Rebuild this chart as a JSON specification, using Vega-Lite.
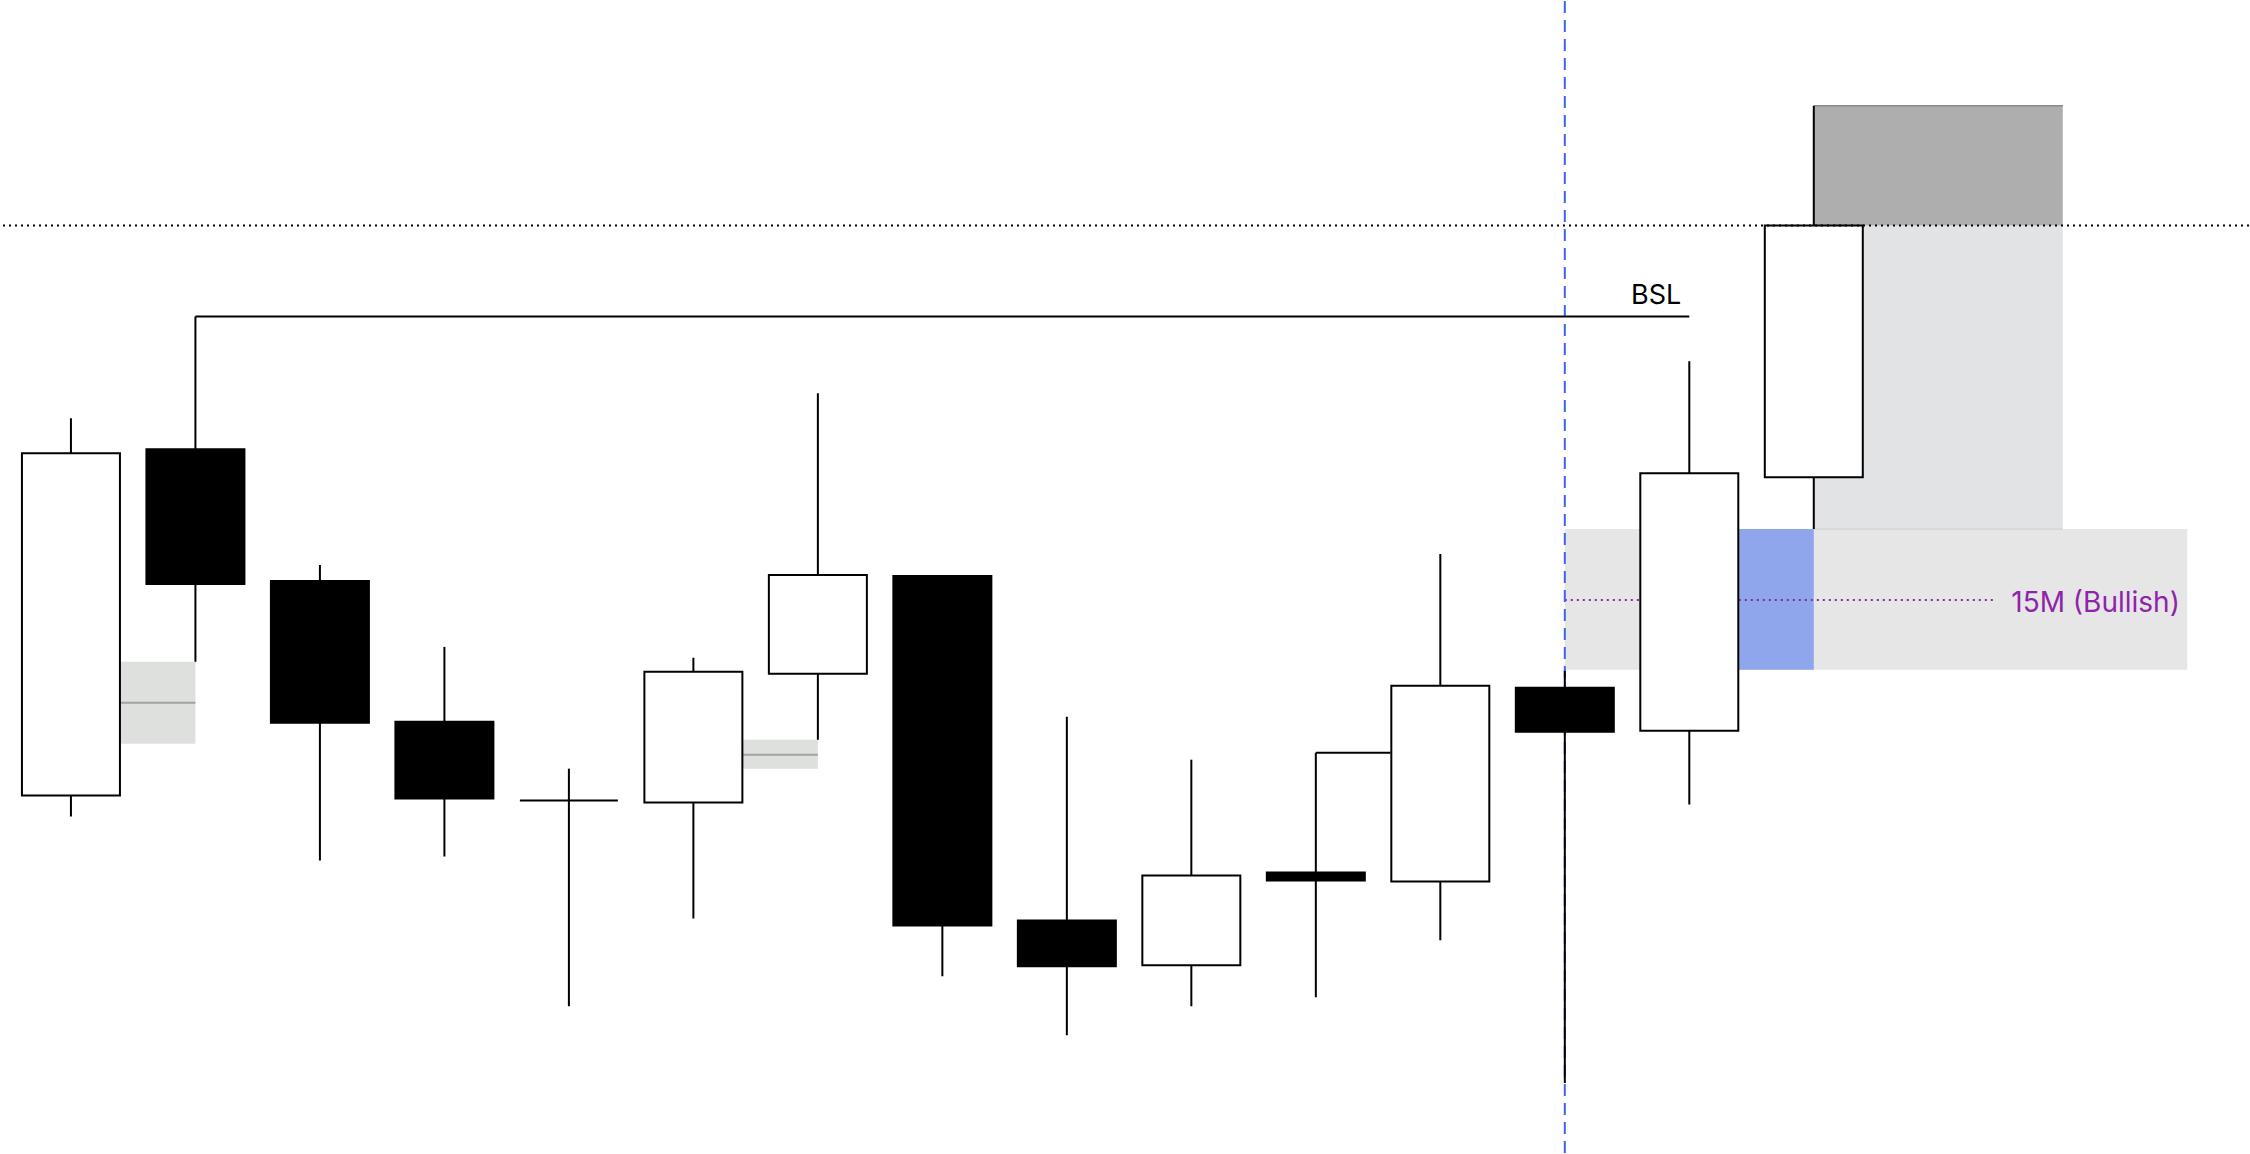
{
  "$schema": "https://vega.github.io/schema/vega-lite/v6.json",
  "width": 2250,
  "height": 1154,
  "autosize": {"type": "fit", "contains": "padding"},
  "padding": 0,
  "background": "white",
  "config": {"view": {"stroke": null}, "scale": {"continuousPadding": 0}},
  "datasets": {
    "candles": [
      {"i": 0, "open": 35.8, "high": 73.6, "low": 33.7, "close": 70.1},
      {"i": 1, "open": 70.5, "high": 83.8, "low": 49.2, "close": 57.0},
      {"i": 2, "open": 57.3, "high": 58.9, "low": 29.3, "close": 43.1},
      {"i": 3, "open": 43.2, "high": 50.7, "low": 29.7, "close": 35.5},
      {"i": 4, "open": 35.3, "high": 38.5, "low": 14.7, "close": 35.3},
      {"i": 5, "open": 35.1, "high": 49.6, "low": 23.5, "close": 48.2},
      {"i": 6, "open": 48.0, "high": 76.1, "low": 41.4, "close": 57.9},
      {"i": 7, "open": 57.8, "high": 57.8, "low": 17.7, "close": 22.8},
      {"i": 8, "open": 23.3, "high": 43.7, "low": 11.8, "close": 18.7},
      {"i": 9, "open": 18.8, "high": 39.4, "low": 14.7, "close": 27.8},
      {"i": 10, "open": 28.1, "high": 40.1, "low": 15.6, "close": 27.3},
      {"i": 11, "open": 27.2, "high": 60.0, "low": 21.3, "close": 46.8},
      {"i": 12, "open": 46.6, "high": 48.3, "low": 7.0, "close": 42.2},
      {"i": 13, "open": 42.3, "high": 79.3, "low": 34.9, "close": 68.1},
      {"i": 14, "open": 67.7, "high": 104.9, "low": 62.5, "close": 92.9}
    ],
    "zones": [
      {"kind": "zone", "x": 12, "x2": 17, "y": 62.5, "y2": 48.4},
      {"kind": "target", "x": 14, "x2": 16, "y": 92.9, "y2": 62.5},
      {"kind": "stop", "x": 14, "x2": 16, "y": 104.9, "y2": 92.9},
      {"kind": "gap", "x": 13.4, "x2": 14, "y": 62.5, "y2": 48.4},
      {"kind": "imbalance", "x": 0.4, "x2": 1.0, "y": 49.2, "y2": 41.0},
      {"kind": "imbalance", "x": 5.4, "x2": 6.0, "y": 41.4, "y2": 38.5}
    ],
    "midlines": [
      {"x": 0.4, "x2": 1.0, "y": 45.1},
      {"x": 5.4, "x2": 6.0, "y": 39.9}
    ],
    "levels": [
      {"x": 1, "x2": 13, "y": 83.8},
      {"x": 10, "x2": 10.6, "y": 40.1}
    ]
  },
  "layer": [
    {
      "data": {"name": "zones"},
      "mark": {"type": "rect"},
      "encoding": {
        "x": {"field": "x", "type": "quantitative", "scale": {"domain": [-0.5618, 17.496], "nice": false, "zero": false, "padding": 0}, "axis": null},
        "x2": {"field": "x2"},
        "y": {"field": "y", "type": "quantitative", "scale": {"domain": [0, 115.4], "nice": false, "zero": false, "padding": 0}, "axis": null},
        "y2": {"field": "y2"},
        "fill": {"field": "kind", "type": "nominal", "legend": null,
          "scale": {"domain": ["zone", "target", "stop", "gap", "imbalance"], "range": ["#e6e6e6", "#e2e3e5", "#aeaeae", "#8fa5ec", "#dde0dd"]}}
      }
    },
    {
      "data": {"values": [{"x": 14, "x2": 16, "y": 104.9}]},
      "mark": {"type": "rule", "color": "#8a8a8a", "strokeWidth": 1.5},
      "encoding": {"x": {"field": "x", "type": "quantitative"}, "x2": {"field": "x2"}, "y": {"field": "y", "type": "quantitative"}}
    },
    {
      "data": {"values": [{"x": 14, "x2": 16, "y": 62.5}]},
      "mark": {"type": "rule", "color": "#cdced1", "strokeWidth": 1},
      "encoding": {"x": {"field": "x", "type": "quantitative"}, "x2": {"field": "x2"}, "y": {"field": "y", "type": "quantitative"}}
    },
    {
      "data": {"name": "midlines"},
      "mark": {"type": "rule", "color": "#a0a3a0", "strokeWidth": 2},
      "encoding": {"x": {"field": "x", "type": "quantitative"}, "x2": {"field": "x2"}, "y": {"field": "y", "type": "quantitative"}}
    },
    {
      "data": {"values": [{"x": 12, "x2": 15.45, "y": 55.4}]},
      "mark": {"type": "rule", "color": "#8e24aa", "strokeWidth": 2, "strokeDash": [2, 4]},
      "encoding": {"x": {"field": "x", "type": "quantitative"}, "x2": {"field": "x2"}, "y": {"field": "y", "type": "quantitative"}}
    },
    {
      "data": {"values": [{"x": 12}]},
      "mark": {"type": "rule", "color": "#3d63f0", "strokeWidth": 2, "strokeDash": [12, 7]},
      "encoding": {"x": {"field": "x", "type": "quantitative"}}
    },
    {
      "data": {"name": "levels"},
      "mark": {"type": "rule", "color": "black", "strokeWidth": 2},
      "encoding": {"x": {"field": "x", "type": "quantitative"}, "x2": {"field": "x2"}, "y": {"field": "y", "type": "quantitative"}}
    },
    {
      "data": {"name": "candles"},
      "mark": {"type": "rule", "color": "black", "strokeWidth": 2},
      "encoding": {"x": {"field": "i", "type": "quantitative"}, "y": {"field": "low", "type": "quantitative"}, "y2": {"field": "high"}}
    },
    {
      "data": {"name": "candles"},
      "mark": {"type": "bar", "width": 98, "stroke": "black", "strokeWidth": 2},
      "encoding": {
        "x": {"field": "i", "type": "quantitative"},
        "y": {"field": "open", "type": "quantitative"},
        "y2": {"field": "close"},
        "fill": {"condition": {"test": "datum.close >= datum.open", "value": "white"}, "value": "black"}
      }
    },
    {
      "data": {"values": [{"y": 92.9}]},
      "mark": {"type": "rule", "color": "black", "strokeWidth": 2, "strokeDash": [2, 4]},
      "encoding": {"y": {"field": "y", "type": "quantitative"}}
    },
    {
      "data": {"values": [{"x": 13, "y": 83.8, "label": "BSL"}]},
      "mark": {"type": "text", "align": "right", "baseline": "alphabetic", "dx": -8, "dy": -12, "font": "Inter", "fontSize": 27, "color": "black"},
      "encoding": {"x": {"field": "x", "type": "quantitative"}, "y": {"field": "y", "type": "quantitative"}, "text": {"field": "label"}}
    },
    {
      "data": {"values": [{"x": 15.45, "y": 55.4, "label": "15M (Bullish)"}]},
      "mark": {"type": "text", "align": "left", "baseline": "alphabetic", "dx": 17, "dy": 12, "font": "Inter", "fontSize": 28, "color": "#8e24aa"},
      "encoding": {"x": {"field": "x", "type": "quantitative"}, "y": {"field": "y", "type": "quantitative"}, "text": {"field": "label"}}
    }
  ]
}
